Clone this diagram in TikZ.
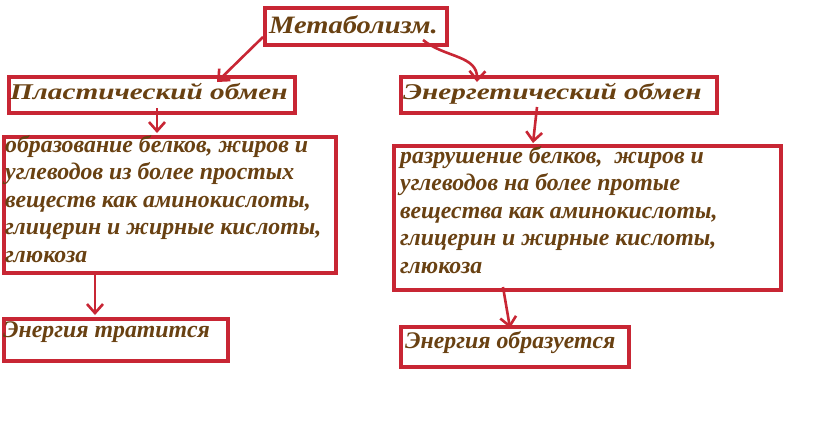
\documentclass[tikz,border=0pt]{standalone}
\usepackage{fontspec}
\setmainfont{Liberation Serif}
\newfontfamily\rfont[FakeStretch=1.3]{Liberation Serif}
\newfontfamily\mfont[FakeStretch=1.14]{Liberation Serif}
\usetikzlibrary{arrows.meta}
\definecolor{bred}{RGB}{200,38,52}
\definecolor{tbrown}{RGB}{105,65,18}
\tikzset{
  box/.style={draw=bred, line width=4pt, anchor=north west, inner sep=0pt},
  ttl/.style={anchor=base west, inner sep=0pt, text=tbrown, font=\rfont\fontsize{22.5}{26}\selectfont\bfseries\itshape},
  bodyt/.style={anchor=base west, inner sep=0pt, text=tbrown, font=\fontsize{23.8}{27.5}\selectfont\bfseries\itshape, align=left},
  arr/.style={draw=bred, line width=2.6pt, -{Straight Barb[length=9pt,width=16pt,line width=2.6pt]}}
}
\begin{document}
\begin{tikzpicture}[x=1pt,y=-1pt]
\useasboundingbox (0,0) rectangle (813,444);
\fill[white] (0,0) rectangle (813,444);
% boxes
\node[box, minimum width=182pt, minimum height=37pt] (meta) at (263,6) {};
\node[box, minimum width=286pt, minimum height=36pt] (pl) at (7,75) {};
\node[box, minimum width=332pt, minimum height=136pt] (plb) at (2,135) {};
\node[box, minimum width=316pt, minimum height=36pt] (en) at (399,75) {};
\node[box, minimum width=387pt, minimum height=144pt] (enb) at (392,144) {};
\node[box, minimum width=224pt, minimum height=42pt] (pe) at (2,317) {};
\node[box, minimum width=228pt, minimum height=40pt] (ee) at (399,325) {};
% texts
\node[ttl, font=\mfont\fontsize{25}{28}\selectfont\bfseries\itshape] (tmeta) at (269,34) {Метаболизм.};
\node[ttl] (tpl) at (10,99) {Пластический обмен};
\node[ttl] (ten) at (403,99) {Энергетический обмен};
\node[bodyt] (tplb) at (5,262) {образование белков, жиров и\\углеводов из более простых\\веществ как аминокислоты,\\глицерин и жирные кислоты,\\глюкоза};
\node[bodyt] (tenb) at (400,273) {разрушение белков,\ \ жиров и\\углеводов на более протые\\вещества как аминокислоты,\\глицерин и жирные кислоты,\\глюкоза};
\node[bodyt] (tpe) at (3,337) {Энергия тратится};
\node[bodyt] (tee) at (405,348) {Энергия образуется};
% arrow endpoints
\coordinate (a1s) at (263,37);
\coordinate (a1e) at (217,82);
\coordinate (a2s) at (423,40);
\coordinate (a2e) at (477,82);
\coordinate (a3s) at (157,108);
\coordinate (a3e) at (157,133);
\coordinate (a4s) at (537,107);
\coordinate (a4e) at (533,143);
\coordinate (a5s) at (95,273);
\coordinate (a5e) at (95,315);
\coordinate (a6s) at (503,287);
\coordinate (a6e) at (510,328);
\draw[arr] (a1s) -- (a1e);
\draw[arr] (a2s) .. controls (445,58) and (478,55) .. (a2e);
\draw[arr] (a3s) -- (a3e);
\draw[arr] (a4s) -- (a4e);
\draw[arr] (a5s) -- (a5e);
\draw[arr] (a6s) -- (a6e);
\end{tikzpicture}
\end{document}
